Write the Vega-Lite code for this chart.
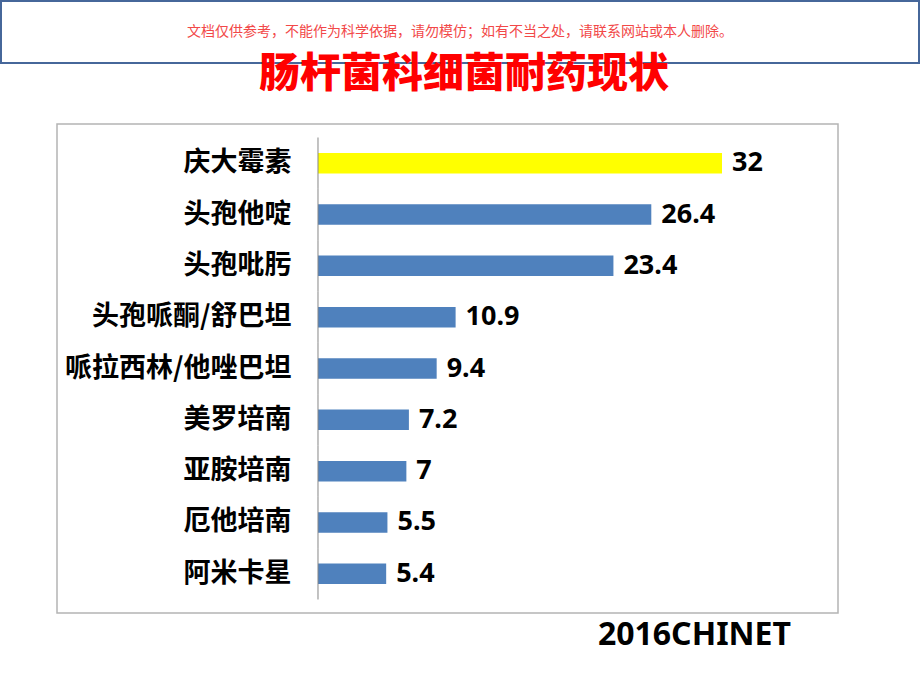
{
  "$schema": "https://vega.github.io/schema/vega-lite/v6.json",
  "padding": {"left": 0, "top": 0, "right": 0, "bottom": 30},
  "background": "white",
  "config": {"view": {"stroke": null}, "font": "Noto Sans CJK SC"},
  "datasets": {
    "resistance": [
      {"drug": "庆大霉素", "rate": 32},
      {"drug": "头孢他啶", "rate": 26.4},
      {"drug": "头孢吡肟", "rate": 23.4},
      {"drug": "头孢哌酮/舒巴坦", "rate": 10.9},
      {"drug": "哌拉西林/他唑巴坦", "rate": 9.4},
      {"drug": "美罗培南", "rate": 7.2},
      {"drug": "亚胺培南", "rate": 7},
      {"drug": "厄他培南", "rate": 5.5},
      {"drug": "阿米卡星", "rate": 5.4}
    ]
  },
  "spacing": 27,
  "vconcat": [
    {
      "width": 918,
      "height": 62,
      "view": {"stroke": "#46679A", "strokeWidth": 2},
      "data": {"values": [{"notice": "文档仅供参考，不能作为科学依据，请勿模仿；如有不当之处，请联系网站或本人删除。"}]},
      "mark": {"type": "text", "font": "Noto Sans CJK SC", "fontSize": 14, "color": "#F24848", "baseline": "middle", "align": "center"},
      "encoding": {"text": {"field": "notice", "type": "nominal"}},
      "title": {"text": "肠杆菌科细菌耐药现状", "orient": "bottom", "anchor": "middle", "offset": -8, "dx": 4, "fontSize": 41, "fontWeight": 900, "color": "#FF0000", "font": "Noto Sans CJK SC"}
    },
    {
      "spacing": 0,
      "hconcat": [
        {"width": 55, "height": 10, "data": {"values": []}, "mark": "text", "encoding": {}},
        {
          "width": 781,
          "height": 489,
          "view": {"stroke": "#B4B4B4", "strokeWidth": 1.5},
          "data": {"name": "resistance"},
          "title": {"text": "2016CHINET", "orient": "bottom", "anchor": "end", "offset": 7, "dx": -47, "fontSize": 32, "fontWeight": "bold", "font": "Noto Sans", "color": "#000000"},
          "encoding": {
            "y": {
              "field": "drug", "type": "nominal", "sort": null,
              "scale": {"paddingInner": 0, "paddingOuter": 0.263},
              "axis": {"orient": "left", "offset": -261, "domain": false, "ticks": false, "grid": false, "title": null, "labelPadding": 27, "labelFont": "Noto Sans CJK SC", "labelFontSize": 27, "labelFontWeight": "bold", "labelColor": "#000000", "labelLimit": 400}
            }
          },
          "layer": [
            {
              "mark": {"type": "bar", "height": {"band": 0.4}},
              "encoding": {
                "x": {"field": "rate", "type": "quantitative", "scale": {"domain": [-20.673, 41.188], "nice": false, "zero": false}, "axis": null},
                "color": {"condition": {"test": "datum.drug === '庆大霉素'", "value": "#FFFF00"}, "value": "#4F81BD"}
              }
            },
            {
              "mark": {"type": "rule", "color": "#868686", "strokeWidth": 1},
              "encoding": {
                "x": {"datum": 0, "type": "quantitative"},
                "y": {"field": "drug", "type": "nominal", "sort": null, "bandPosition": 0},
                "y2": {"field": "drug", "bandPosition": 1}
              }
            },
            {
              "mark": {"type": "text", "align": "left", "baseline": "middle", "dx": 10, "font": "Noto Sans", "fontSize": 27, "fontWeight": "bold", "color": "#000000"},
              "encoding": {
                "x": {"field": "rate", "type": "quantitative"},
                "text": {"field": "rate", "type": "quantitative", "format": ".1~f"}
              }
            }
          ]
        }
      ]
    }
  ]
}
